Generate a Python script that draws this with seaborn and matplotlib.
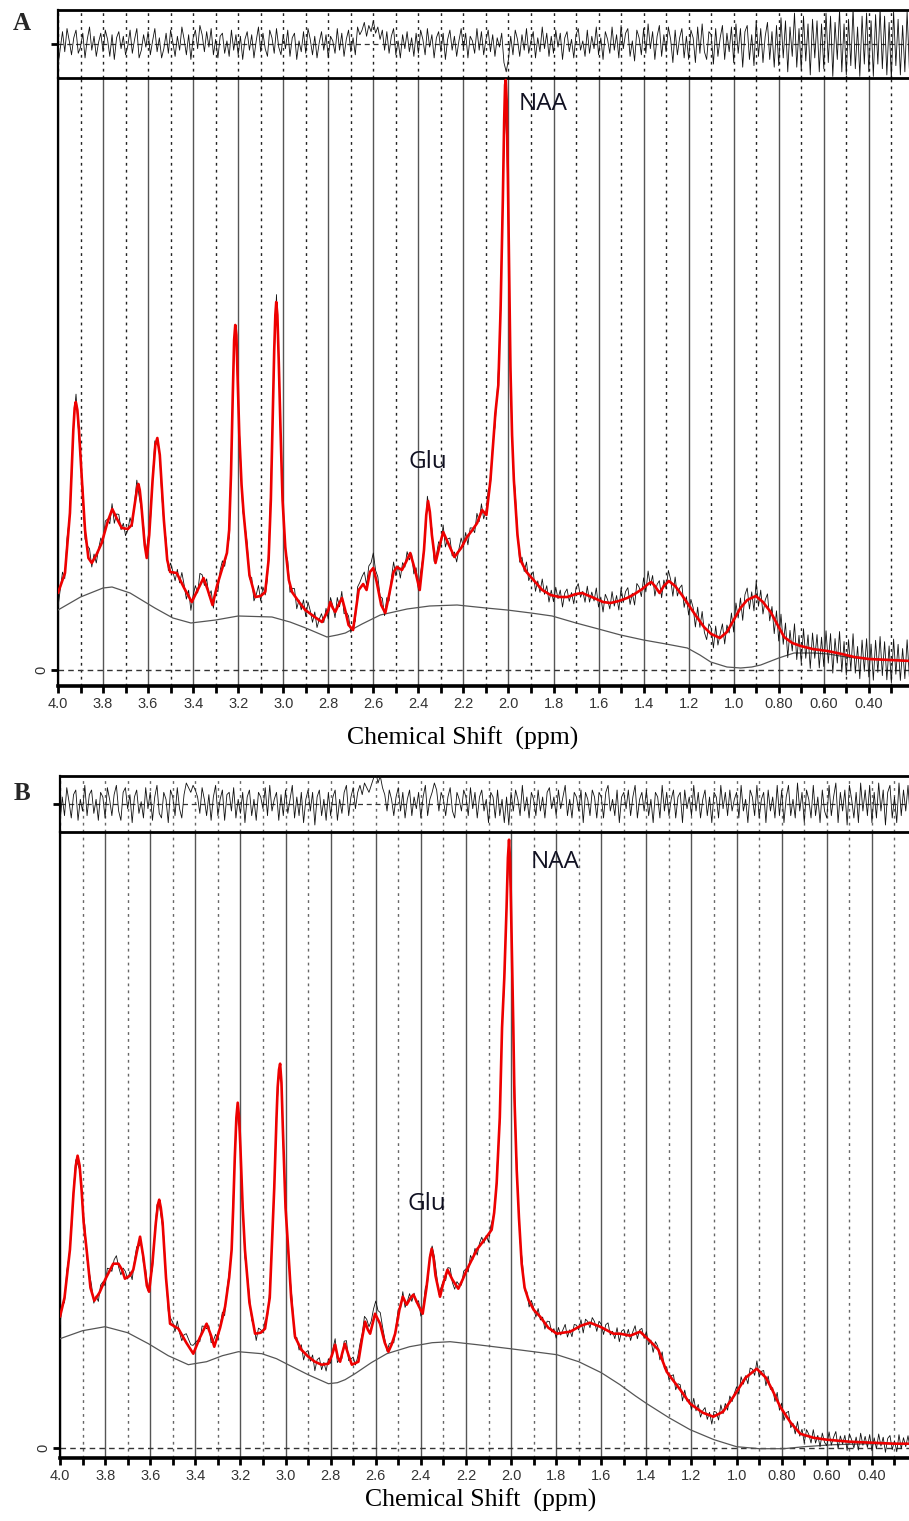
import numpy as np
import pandas as pd
import matplotlib
matplotlib.use("Agg")
import matplotlib.pyplot as plt
import seaborn as sns

# ---------------- data ----------------
tick_values = [4.0, 3.8, 3.6, 3.4, 3.2, 3.0, 2.8, 2.6, 2.4, 2.2, 2.0, 1.8, 1.6, 1.4, 1.2, 1.0, 0.8, 0.6, 0.4]
tick_labels = ["4.0", "3.8", "3.6", "3.4", "3.2", "3.0", "2.8", "2.6", "2.4", "2.2", "2.0", "1.8",
               "1.6", "1.4", "1.2", "1.0", "0.80", "0.60", "0.40"]
minor_values = [3.9, 3.7, 3.5, 3.3, 3.1, 2.9, 2.7, 2.5, 2.3, 2.1, 1.9, 1.7, 1.5, 1.3, 1.1, 0.9, 0.7, 0.5, 0.3]

# residual sampling positions (ppm), 4.00 ... 0.21 in 0.01 steps
resid_ppm = np.round(np.arange(400, 20, -1) / 100.0, 2)

# ---- Panel A ----
fit_a_ppm = [4.00, 3.969, 3.947, 3.932, 3.926, 3.921, 3.914, 3.907, 3.892, 3.88,
             3.865, 3.85, 3.83, 3.806, 3.78, 3.759, 3.74, 3.717, 3.69, 3.673,
             3.655, 3.648, 3.643, 3.637, 3.63, 3.615, 3.606, 3.595, 3.58, 3.568,
             3.559, 3.548, 3.53, 3.515, 3.502, 3.473, 3.44, 3.406, 3.38, 3.354,
             3.335, 3.314, 3.293, 3.273, 3.25, 3.24, 3.232, 3.224, 3.218, 3.213,
             3.208, 3.202, 3.195, 3.185, 3.176, 3.15, 3.124, 3.10, 3.08, 3.065,
             3.055, 3.047, 3.04, 3.035, 3.031, 3.026, 3.02, 3.012, 3.003, 2.991,
             2.975, 2.961, 2.93, 2.902, 2.86, 2.828, 2.80, 2.791, 2.78, 2.769,
             2.755, 2.739, 2.725, 2.71, 2.69, 2.665, 2.645, 2.63, 2.615, 2.60,
             2.585, 2.565, 2.547, 2.53, 2.51, 2.495, 2.473, 2.455, 2.436, 2.415,
             2.394, 2.375, 2.365, 2.357, 2.349, 2.34, 2.324, 2.305, 2.29, 2.27,
             2.24, 2.21, 2.184, 2.16, 2.139, 2.117, 2.098, 2.08, 2.065, 2.058,
             2.045, 2.035, 2.025, 2.019, 2.015, 2.012, 2.008, 2.003, 1.997, 1.991,
             1.984, 1.976, 1.96, 1.947, 1.92, 1.889, 1.85, 1.813, 1.775, 1.739,
             1.70, 1.673, 1.62, 1.58, 1.547, 1.51, 1.473, 1.44, 1.406, 1.38,
             1.366, 1.35, 1.329, 1.31, 1.288, 1.26, 1.23, 1.206, 1.17, 1.132,
             1.10, 1.061, 1.03, 1.00, 0.97, 0.94, 0.902, 0.87, 0.836, 0.80,
             0.776, 0.74, 0.702, 0.65, 0.583, 0.52, 0.465, 0.40, 0.30, 0.21]
fit_a_val = [77, 97, 157, 240, 262, 268, 260, 240, 183, 140,
             112, 107, 115, 127, 148, 161, 152, 142, 141, 145,
             172, 183, 186, 180, 165, 125, 112, 135, 190, 225,
             232, 215, 150, 110, 98, 97, 82, 68, 80, 92,
             80, 65, 85, 100, 117, 140, 195, 275, 330, 345,
             335, 290, 235, 185, 157, 95, 73, 74, 78, 110,
             170, 250, 320, 355, 368, 355, 310, 240, 170, 123,
             90, 78, 68, 60, 53, 48, 60, 68, 62, 58,
             65, 72, 60, 45, 40, 80, 86, 80, 98, 102,
             88, 65, 57, 75, 98, 103, 100, 108, 117, 100,
             80, 120, 155, 169, 158, 135, 107, 125, 138, 128,
             113, 122, 133, 140, 147, 160, 155, 190, 235, 257,
             285, 360, 470, 550, 585, 590, 570, 500, 400, 300,
             235, 190, 135, 110, 98, 90, 80, 75, 73, 73,
             76, 77, 72, 68, 67, 69, 72, 76, 81, 86,
             88, 84, 77, 84, 89, 84, 75, 67, 55, 43,
             36, 32, 38, 50, 62, 70, 74, 68, 58, 43,
             33, 27, 24, 21, 19, 16, 13, 11, 10, 9]
base_a_ppm = [4.00, 3.90, 3.80, 3.76, 3.68, 3.57, 3.49, 3.41, 3.30, 3.20, 3.05, 2.97, 2.90, 2.806, 2.76,
              2.724, 2.65, 2.569, 2.45, 2.35, 2.228, 2.10, 2.006, 1.90, 1.806, 1.70, 1.60, 1.502, 1.40, 1.30,
              1.206, 1.15, 1.102, 1.03, 0.969, 0.92, 0.88, 0.80, 0.732, 0.643, 0.58, 0.50, 0.40, 0.30, 0.21]
base_a_val = [60, 73, 82, 83, 77, 62, 52, 47, 50, 54, 53, 48, 42, 33, 35,
              37, 46, 55, 61, 64, 65, 62, 60, 57, 54, 47, 41, 35, 30, 26,
              22, 15, 8, 3, 2, 3, 5, 12, 17, 17, 16, 13, 11, 10, 9]
resid_a = [-14, -3, 8, -5, 10, 2, -7, 4, 9, -6, -2, 7, -9, 3, 11, -4, 5, -8, 1, 7,
           -5, 9, 3, -8, 6, -10, 4, 8, -3, 5, -7, -1, 9, -6, 3, 10, -9, -4, 6, -2,
           8, -7, 2, 10, -5, 4, -9, -3, 7, -6, 9, 1, -8, 5, -4, 11, 3, -7, 6, -10,
           4, 9, -3, 12, 6, -5, 8, -2, 10, -7, 3, -9, 5, 7, -6, 2, -8, 9, -4, 6,
           -7, 5, -10, 3, 8, -4, 6, -9, 2, 11, -5, 7, -3, -8, 9, 4, -6, 10, -2, -7,
           6, -3, 9, -8, 4, 7, -10, 2, -5, 8, -6, 10, 3, -7, 5, -9, 1, 8, -4, 6,
           -9, 5, 2, -6, 10, -4, 7, -8, 3, 9, -5, 4, -7, 11, 6, 9, 14, 5, 12, 8,
           15, 7, 11, 3, 9, -4, 8, -6, 5, 10, -7, 2, -9, 6, -3, 8, -5, 4, -8, 7,
           -6, 9, 3, -7, 10, -2, 6, -9, 4, 8, -5, 7, -10, 3, 9, -4, 5, -8, 2, 10,
           -3, 7, -9, 5, 2, -6, 10, -4, 8, -7, 3, 9, -5, 6, -8, 4, -2, 7, -12, -18,
           -10, 5, -7, 9, 3, -8, 6, -4, 10, -6, 2, 8, -9, 4, -5, 11, -3, 7, -8, 5,
           -6, 9, -2, 7, -10, 4, 8, -5, 3, -9, 6, 10, -4, 2, -8, 9, -6, 5, -3, 11,
           -7, 4, -10, 8, 3, -6, 11, -4, 6, -9, 12, -3, 7, 10, -8, 2, -11, 9, 4, -7,
           10, -6, 13, -3, 8, -10, 5, 12, -8, 6, -5, 11, 3, -12, 9, -7, 4, 10, -9, 5,
           -10, 9, 4, -12, 11, -6, 13, -5, -10, 8, 6, -13, 10, -8, 4, 12, -10, 7, -5, 11,
           -12, 13, -6, 10, -15, 8, 12, -10, 6, -14, 15, -8, 10, -12, 5, 14, -10, 8, -15, 12,
           -14, 17, -9, 15, -18, 11, -8, 20, -15, 10, -17, 18, -11, 13, -20, 16, -9, 15, -18, 13,
           -16, 20, -12, 18, -21, 14, -10, 22, -18, 13, -20, 16, -14, 23, -16, 11, -21, 18, -13, 20,
           -18, 15, -21, 19, -13, 23, -16, 18, -20, 14, -23, 21, -14, 16, -20, 12, -18, 21, -16, 15]

# ---- Panel B ----
fit_b_ppm = [4.00, 3.98, 3.956, 3.94, 3.93, 3.922, 3.913, 3.905, 3.895, 3.882,
             3.865, 3.848, 3.825, 3.80, 3.764, 3.741, 3.725, 3.712, 3.69, 3.675,
             3.66, 3.645, 3.63, 3.615, 3.605, 3.59, 3.575, 3.566, 3.56, 3.553,
             3.545, 3.53, 3.512, 3.475, 3.44, 3.409, 3.38, 3.35, 3.33, 3.316,
             3.29, 3.268, 3.25, 3.239, 3.232, 3.225, 3.218, 3.212, 3.206, 3.20,
             3.19, 3.18, 3.16, 3.135, 3.11, 3.091, 3.07, 3.05, 3.04, 3.035,
             3.029, 3.024, 3.018, 3.012, 3.00, 2.988, 2.975, 2.958, 2.93, 2.899,
             2.87, 2.84, 2.81, 2.795, 2.78, 2.768, 2.758, 2.748, 2.737, 2.72,
             2.706, 2.677, 2.66, 2.647, 2.635, 2.625, 2.603, 2.581, 2.56, 2.544,
             2.53, 2.514, 2.495, 2.48, 2.463, 2.445, 2.433, 2.41, 2.392, 2.375,
             2.36, 2.352, 2.344, 2.335, 2.315, 2.30, 2.282, 2.26, 2.234, 2.215,
             2.196, 2.152, 2.108, 2.086, 2.075, 2.064, 2.05, 2.04, 2.03, 2.02,
             2.014, 2.009, 2.004, 2.00, 1.995, 1.99, 1.985, 1.975, 1.965, 1.953,
             1.94, 1.923, 1.90, 1.871, 1.835, 1.797, 1.77, 1.738, 1.69, 1.65,
             1.605, 1.546, 1.517, 1.472, 1.45, 1.428, 1.39, 1.347, 1.31, 1.287,
             1.25, 1.206, 1.15, 1.103, 1.06, 1.014, 0.96, 0.911, 0.87, 0.84,
             0.807, 0.76, 0.718, 0.66, 0.60, 0.50, 0.40, 0.30, 0.21]
fit_b_val = [131, 150, 198, 255, 282, 292, 282, 260, 225, 198,
             160, 147, 155, 168, 184, 184, 178, 169, 172, 178,
             195, 211, 190, 162, 156, 185, 225, 243, 248, 240,
             225, 170, 124, 119, 105, 94, 110, 124, 112, 101,
             120, 141, 170, 198, 240, 290, 330, 345, 330, 300,
             240, 198, 145, 114, 115, 119, 150, 260, 330, 360,
             378, 384, 365, 320, 240, 198, 150, 111, 98, 91,
             86, 83, 84, 92, 103, 90, 86, 95, 104, 92,
             83, 86, 110, 126, 118, 114, 134, 124, 105, 96,
             103, 114, 138, 151, 143, 150, 153, 142, 134, 160,
             190, 199, 190, 172, 151, 165, 178, 168, 159, 168,
             178, 198, 211, 218, 235, 264, 330, 420, 470, 540,
             590, 608, 585, 540, 480, 420, 350, 278, 230, 184,
             160, 148, 138, 131, 120, 114, 115, 116, 122, 125,
             121, 114, 114, 112, 114, 116, 108, 98, 76, 69,
             58, 44, 35, 31, 36, 51, 70, 79, 70, 57,
             41, 25, 14, 10, 8, 6, 5, 4, 4]
base_b_ppm = [4.00, 3.90, 3.80, 3.70, 3.608, 3.52, 3.431, 3.35, 3.28, 3.209, 3.105, 3.04, 2.988, 2.90,
              2.81, 2.77, 2.736, 2.692, 2.62, 2.551, 2.45, 2.35, 2.27, 2.15, 2.004, 1.90, 1.797, 1.70,
              1.60, 1.517, 1.45, 1.398, 1.30, 1.206, 1.10, 1.00, 0.90, 0.792, 0.70, 0.57, 0.40, 0.21]
base_b_val = [109, 117, 121, 115, 104, 92, 83, 86, 92, 96, 94, 89, 83, 73,
              64, 65, 68, 74, 85, 94, 101, 105, 106, 103, 99, 96, 93, 86,
              75, 63, 52, 44, 30, 18, 8, 1, -1, -1, 1, 3, 4, 4]
resid_b = [-8, 3, -5, 7, 1, -6, 4, 6, -7, 2, -3, 8, -5, 4, 6, -4, 2, -7, 5, 3,
           -6, 7, 2, -5, 4, 8, -3, -7, 5, 7, -2, 4, -8, 3, 6, -4, 1, -6, 7, -2,
           5, -7, 3, 8, -4, -6, 5, 2, -8, 6, 3, -5, 7, -2, -6, 4, 9, 7, 5, 8,
           6, 3, -4, 7, 2, -5, 4, -7, 3, 8, -5, 2, 6, -7, 4, 5, -3, 7, -6, 2,
           -4, 5, -8, 3, 6, -5, 2, -7, 5, 3, -2, 7, -5, 8, -3, 2, 5, -7, 4, -5,
           6, -4, 2, 8, -6, 3, -5, 5, -8, 2, 6, -3, 5, -9, 3, 6, -5, 2, -7, 5,
           -5, 3, 6, -7, 2, -4, 5, 8, -5, 3, 7, -2, 5, 8, 4, 9, 7, 5, 8, 11,
           14, 9, 12, 7, 4, -3, 6, 2, -5, 3, 7, -3, 5, -6, 2, 6, -5, 3, -2, 5,
           -6, 3, 8, -5, 2, 5, 9, 6, -3, 5, 2, -5, 3, 7, -3, -6, 5, 2, -3, 6,
           3, -5, 7, -2, 5, -6, 3, 6, -3, 2, -8, 5, 3, -6, 6, -5, 2, -8, 3, -9,
           5, -3, 6, 2, -5, 8, -3, 3, -6, 5, 2, -5, 6, -3, 3, -6, 5, 7, -2, 3,
           -5, 6, -2, 3, 8, -5, 2, -6, 5, 3, -3, 6, -8, 5, 2, -5, 6, 3, -6, 5,
           3, -6, 5, 8, -3, 2, -5, 6, -8, 3, 5, -2, 6, -5, 3, 8, -6, 2, 5, -3,
           6, -5, 2, -8, 5, 3, -6, 8, -3, 5, -5, 2, 6, -6, 3, 5, -8, 6, -2, 3,
           -5, 8, -3, 5, -6, 2, 6, -5, 3, -8, 5, 3, -6, 8, -2, 5, -5, 6, -3, 2,
           5, -6, 8, -3, 2, -8, 6, 3, -5, 8, -6, 2, 5, -8, 6, -3, 3, -6, 8, -5,
           6, -8, 3, 8, -5, 2, -6, 9, -3, 5, -8, 6, 2, -6, 8, -5, 3, -8, 6, -3,
           -6, 8, -5, 3, 9, -8, 5, -3, 6, -9, 8, 2, -6, 5, -8, 9, -3, 6, -5, 8,
           -8, 5, -6, 9, -3, 6, -9, 5, 8, -6, 3, -8, 9, -5, 6, -3, 8, -6, 5, -8]

# ---------------- style ----------------
sns.set_theme(style="ticks")
plt.rcParams['font.family'] = ['Liberation Sans', 'DejaVu Sans']

W, H = 909, 1521
fig = plt.figure(figsize=(W / 100, H / 100), dpi=100)


def fbox(x0, y_top, x1, y_bot):
    return [x0 / W, 1 - y_bot / H, (x1 - x0) / W, (y_bot - y_top) / H]


def panel(res_px, main_px, x_right, ylim, rlim, fit_ppm, fit_val, base_ppm, base_val, resid,
          letter, letter_px, xlabel_px, naa_pos, glu_pos, dot_col):
    ax_r = fig.add_axes(fbox(*res_px))
    ax = fig.add_axes(fbox(*main_px))

    fit_ppm = np.asarray(fit_ppm, float)
    fit_val = np.asarray(fit_val, float)
    order = np.argsort(fit_ppm)
    fit_on_grid = np.interp(resid_ppm, fit_ppm[order], fit_val[order])
    resid = np.asarray(resid, float)

    fit_df = pd.DataFrame({"ppm": fit_ppm, "val": fit_val})
    base_df = pd.DataFrame({"ppm": base_ppm, "val": base_val})
    data_df = pd.DataFrame({"ppm": resid_ppm, "val": fit_on_grid + resid})
    res_df = pd.DataFrame({"ppm": resid_ppm, "val": resid})

    # main panel lines
    sns.lineplot(data=base_df, x="ppm", y="val", ax=ax, color="#555555", lw=0.9,
                 sort=False, estimator=None, zorder=3)
    sns.lineplot(data=data_df, x="ppm", y="val", ax=ax, color="#111111", lw=0.6,
                 sort=False, estimator=None, zorder=4)
    sns.lineplot(data=fit_df, x="ppm", y="val", ax=ax, color="#ee0000", lw=1.9,
                 sort=False, estimator=None, zorder=5)
    # residual
    sns.lineplot(data=res_df, x="ppm", y="val", ax=ax_r, color="#111111", lw=0.6,
                 sort=False, estimator=None, zorder=4)

    for a in (ax, ax_r):
        a.set_xlim(4.0, x_right)
        a.set_xticks(tick_values)
        a.set_xticks(minor_values, minor=True)
        a.set_xlabel("")
        a.set_ylabel("")
        a.set_axisbelow(True)
        a.spines["right"].set_visible(False)
        a.spines["left"].set_linewidth(1.6)
        a.spines["left"].set_color("black")

    # main axes
    ax.set_ylim(*ylim)
    ax.set_xticklabels(tick_labels)
    ax.grid(True, axis="x", which="major", color="#555555", lw=1.0, ls="-")
    ax.grid(True, axis="x", which="minor", color=dot_col, lw=1.0, ls=(0, (2, 3)))
    ax.axhline(0, color="#333333", lw=1.0, ls=(0, (4, 3)), zorder=2)
    ax.set_yticks([0])
    ax.set_yticklabels(["0"], rotation=90, va="center")
    ax.tick_params(axis="x", which="both", direction="out", length=5, width=2.0,
                   color="black", labelsize=10.5, labelcolor="#333333", pad=3)
    ax.tick_params(axis="y", which="major", direction="out", length=5, width=2.0,
                   color="black", labelsize=10.5, labelcolor="#333333", pad=2)
    ax.spines["bottom"].set_linewidth(2.6)
    ax.spines["bottom"].set_color("black")
    ax.spines["top"].set_linewidth(2.0)
    ax.spines["top"].set_color("black")

    # residual axes
    ax_r.set_ylim(-rlim, rlim)
    ax_r.grid(True, axis="x", which="both", color=dot_col, lw=1.0, ls=(0, (2, 3)))
    ax_r.axhline(0, color="#333333", lw=0.9, ls=(0, (4, 3)), zorder=2)
    ax_r.tick_params(axis="x", which="both", length=0, labelbottom=False)
    ax_r.set_yticks([0])
    ax_r.set_yticklabels([])
    ax_r.tick_params(axis="y", direction="out", length=5, width=2.0, color="black")
    ax_r.spines["top"].set_linewidth(2.0)
    ax_r.spines["top"].set_color("black")
    ax_r.spines["bottom"].set_visible(False)

    # annotations
    ax.text(naa_pos[0], naa_pos[1], "NAA", fontsize=17.5, family=["Open Sans", "DejaVu Sans"],
            color="#111122", ha="center", va="center", zorder=6)
    ax.text(glu_pos[0], glu_pos[1], "Glu", fontsize=17.5, family=["Open Sans", "DejaVu Sans"],
            color="#111122", ha="center", va="center", zorder=6)
    fig.text(letter_px[0] / W, 1 - letter_px[1] / H, letter, fontsize=18, fontweight="bold",
             family=["Liberation Serif", "DejaVu Serif"], ha="center", va="center")
    fig.text(xlabel_px[0] / W, 1 - xlabel_px[1] / H, "Chemical Shift  (ppm)", fontsize=18.5,
             family=["Liberation Serif", "DejaVu Serif"], ha="center", va="center", color="black")


panel(res_px=(58, 10, 915, 78), main_px=(58, 78, 915, 686), x_right=0.195,
      ylim=(-16, 592), rlim=22,
      fit_ppm=fit_a_ppm, fit_val=fit_a_val, base_ppm=base_a_ppm, base_val=base_a_val, resid=resid_a,
      letter="A", letter_px=(22, 24), xlabel_px=(463, 738),
      naa_pos=(1.844, 566), glu_pos=(2.36, 208), dot_col="#222222")

panel(res_px=(60, 776, 915, 832), main_px=(60, 832, 915, 1458), x_right=0.209,
      ylim=(-10.3, 615.7), rlim=12,
      fit_ppm=fit_b_ppm, fit_val=fit_b_val, base_ppm=base_b_ppm, base_val=base_b_val, resid=resid_b,
      letter="B", letter_px=(22, 794), xlabel_px=(481, 1500),
      naa_pos=(1.805, 586), glu_pos=(2.373, 244), dot_col="#666666")

fig.savefig("out.png", dpi=100)
